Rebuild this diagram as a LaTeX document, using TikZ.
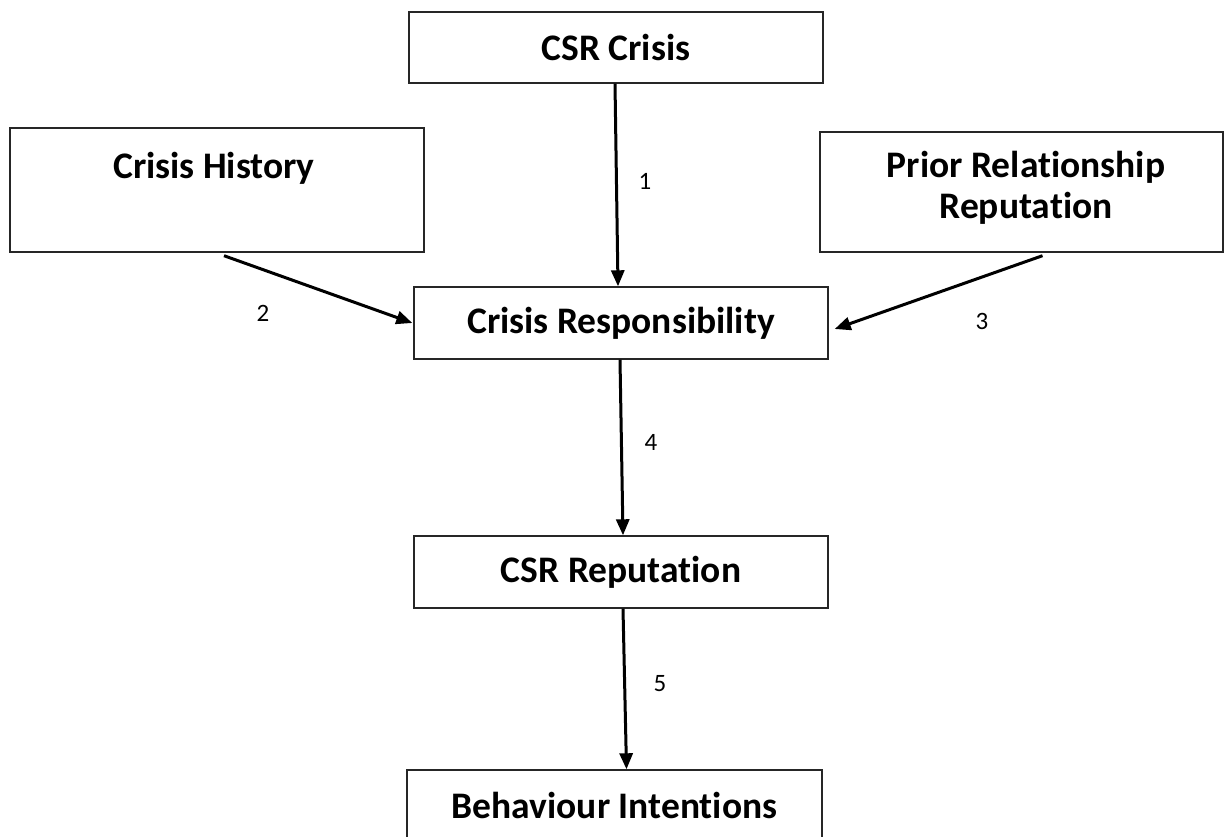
\documentclass[tikz,border=0pt]{standalone}
\usepackage{fontspec}
\setmainfont{Carlito}[Ligatures=NoCommon,RawFeature={-liga;-dlig;-clig}]
\usetikzlibrary{arrows.meta}
\begin{document}
\begin{tikzpicture}[x=1pt,y=-1pt,
  box/.style={draw=black!85,line width=1.4pt,fill=white,inner sep=0pt},
  title/.style={font=\fontsize{37.5}{41}\selectfont\bfseries,align=center,inner sep=0pt},
  num/.style={font=\fontsize{25}{28}\selectfont,inner sep=0pt},
  arr/.style={line width=3pt,-{Triangle[length=16pt,width=13pt]}}]
\useasboundingbox (0,0) rectangle (1231,837);
\node[box,title,minimum width=414pt,minimum height=71pt] (crisis) at (616,47.5) {CSR Crisis};
\node[box,minimum width=414pt,minimum height=124pt] (hist) at (217,190) {};
\node[title] (histtxt) at (214,168) {Crisis History};
\node[box,minimum width=403pt,minimum height=120pt] (prior) at (1021.5,192) {};
\node[title] (priortxt) at (1026,188) {Prior Relationship\\Reputation};
\node[box,title,minimum width=414pt,minimum height=72pt] (resp) at (621,323) {Crisis Responsibility};
\node[box,title,minimum width=414pt,minimum height=72pt] (rep) at (621,572) {CSR Reputation};
\node[box,minimum width=415pt,minimum height=80pt] (beh) at (614.5,810) {};
\node[title] (behtxt) at (614.5,805) {Behaviour Intentions};
\draw[arr] ([xshift=-1pt]crisis.south) -- ([xshift=-3pt]resp.north);
\draw[arr] ([xshift=7pt,yshift=-3pt]hist.south) -- ([xshift=-1pt]resp.west);
\draw[arr] ([xshift=21pt,yshift=-3pt]prior.south) -- ([xshift=6pt,yshift=-6pt]resp.east);
\draw[arr] ([xshift=-1pt]resp.south) -- ([xshift=2pt]rep.north);
\draw[arr] ([xshift=2pt]rep.south) -- ([xshift=12pt]beh.north);
\node[num] (l1) at (645,181) {1};
\node[num] (l2) at (263,313) {2};
\node[num] (l3) at (982,321) {3};
\node[num] (l4) at (651,442) {4};
\node[num] (l5) at (660,684) {5};
\end{tikzpicture}
\end{document}
